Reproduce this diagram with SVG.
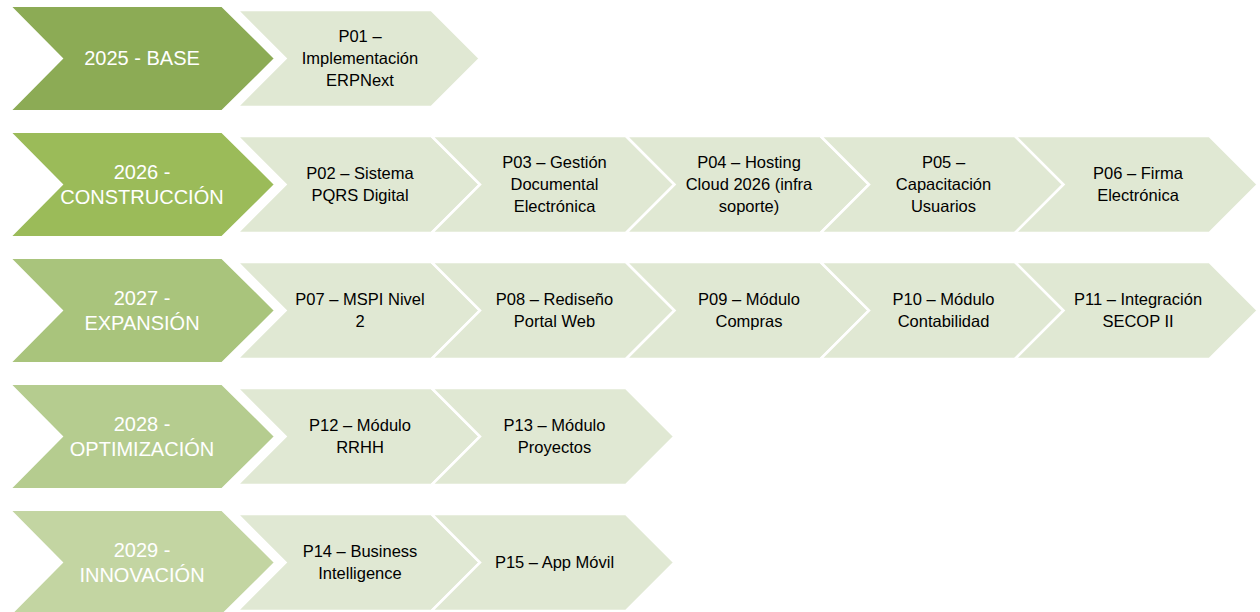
<svg xmlns="http://www.w3.org/2000/svg" xmlns:xlink="http://www.w3.org/1999/xlink" width="1260" height="612" viewBox="0 0 1260 612">
<defs>
<path id="big" d="M0,0 H212 L265,52.5 L212,105 H0 L52,52.5 Z"/>
<path id="small" d="M0,0 H194.5 L243,48.5 L194.5,97 H0 L48.5,48.5 Z"/>
</defs>
<style>
.bg{fill:#ffffff}
.sm{fill:#e0e8d3;stroke:#ffffff;stroke-width:2.5}
.bk{stroke:#ffffff;stroke-width:2}
.b1{fill:#8cab55}.b2{fill:#9bbb59}.b3{fill:#a9c47c}.b4{fill:#b5cc8f}.b5{fill:#c3d5a2}
.bt{font-family:"Liberation Sans",Arial,sans-serif;font-size:20px;fill:#ffffff;text-anchor:middle}
.st{font-family:"Liberation Sans",Arial,sans-serif;font-size:16.5px;fill:#000000;text-anchor:middle}
</style>
<rect class="bg" x="0" y="0" width="1260" height="612"/>

<!-- Row 1 -->
<g id="n-p01"><use xlink:href="#small" class="sm" x="237" y="10"/>
<text class="st" x="360" y="42">P01 –</text><text class="st" x="360" y="64">Implementación</text><text class="st" x="360" y="86">ERPNext</text></g>
<g id="n-2025"><use xlink:href="#big" class="bk b1" x="10" y="6"/>
<text class="bt" x="142" y="65">2025 - BASE</text></g>

<!-- Row 2 -->
<g id="n-p02"><use xlink:href="#small" class="sm" x="237" y="136"/>
<text class="st" x="360" y="179">P02 – Sistema</text><text class="st" x="360" y="201">PQRS Digital</text></g>
<g id="n-p03"><use xlink:href="#small" class="sm" x="431.5" y="136"/>
<text class="st" x="554.5" y="168">P03 – Gestión</text><text class="st" x="554.5" y="190">Documental</text><text class="st" x="554.5" y="212">Electrónica</text></g>
<g id="n-p04"><use xlink:href="#small" class="sm" x="626" y="136"/>
<text class="st" x="749" y="168">P04 – Hosting</text><text class="st" x="749" y="190">Cloud 2026 (infra</text><text class="st" x="749" y="212">soporte)</text></g>
<g id="n-p05"><use xlink:href="#small" class="sm" x="820.5" y="136"/>
<text class="st" x="943.5" y="168">P05 –</text><text class="st" x="943.5" y="190">Capacitación</text><text class="st" x="943.5" y="212">Usuarios</text></g>
<g id="n-p06"><use xlink:href="#small" class="sm" x="1015" y="136"/>
<text class="st" x="1138" y="179">P06 – Firma</text><text class="st" x="1138" y="201">Electrónica</text></g>
<g id="n-2026"><use xlink:href="#big" class="bk b2" x="10" y="132"/>
<text class="bt" x="142" y="179">2026 -</text><text class="bt" x="142" y="204">CONSTRUCCIÓN</text></g>

<!-- Row 3 -->
<g id="n-p07"><use xlink:href="#small" class="sm" x="237" y="262"/>
<text class="st" x="360" y="305">P07 – MSPI Nivel</text><text class="st" x="360" y="327">2</text></g>
<g id="n-p08"><use xlink:href="#small" class="sm" x="431.5" y="262"/>
<text class="st" x="554.5" y="305">P08 – Rediseño</text><text class="st" x="554.5" y="327">Portal Web</text></g>
<g id="n-p09"><use xlink:href="#small" class="sm" x="626" y="262"/>
<text class="st" x="749" y="305">P09 – Módulo</text><text class="st" x="749" y="327">Compras</text></g>
<g id="n-p10"><use xlink:href="#small" class="sm" x="820.5" y="262"/>
<text class="st" x="943.5" y="305">P10 – Módulo</text><text class="st" x="943.5" y="327">Contabilidad</text></g>
<g id="n-p11"><use xlink:href="#small" class="sm" x="1015" y="262"/>
<text class="st" x="1138" y="305">P11 – Integración</text><text class="st" x="1138" y="327">SECOP II</text></g>
<g id="n-2027"><use xlink:href="#big" class="bk b3" x="10" y="258"/>
<text class="bt" x="142" y="305">2027 -</text><text class="bt" x="142" y="330">EXPANSIÓN</text></g>

<!-- Row 4 -->
<g id="n-p12"><use xlink:href="#small" class="sm" x="237" y="388"/>
<text class="st" x="360" y="431">P12 – Módulo</text><text class="st" x="360" y="453">RRHH</text></g>
<g id="n-p13"><use xlink:href="#small" class="sm" x="431.5" y="388"/>
<text class="st" x="554.5" y="431">P13 – Módulo</text><text class="st" x="554.5" y="453">Proyectos</text></g>
<g id="n-2028"><use xlink:href="#big" class="bk b4" x="10" y="384"/>
<text class="bt" x="142" y="431">2028 -</text><text class="bt" x="142" y="456">OPTIMIZACIÓN</text></g>

<!-- Row 5 -->
<g id="n-p14"><use xlink:href="#small" class="sm" x="237" y="514"/>
<text class="st" x="360" y="557">P14 – Business</text><text class="st" x="360" y="579">Intelligence</text></g>
<g id="n-p15"><use xlink:href="#small" class="sm" x="431.5" y="514"/>
<text class="st" x="554.5" y="568">P15 – App Móvil</text></g>
<g id="n-2029"><use xlink:href="#big" class="bk b5" x="10" y="510"/>
<text class="bt" x="142" y="557">2029 -</text><text class="bt" x="142" y="582">INNOVACIÓN</text></g>
</svg>
